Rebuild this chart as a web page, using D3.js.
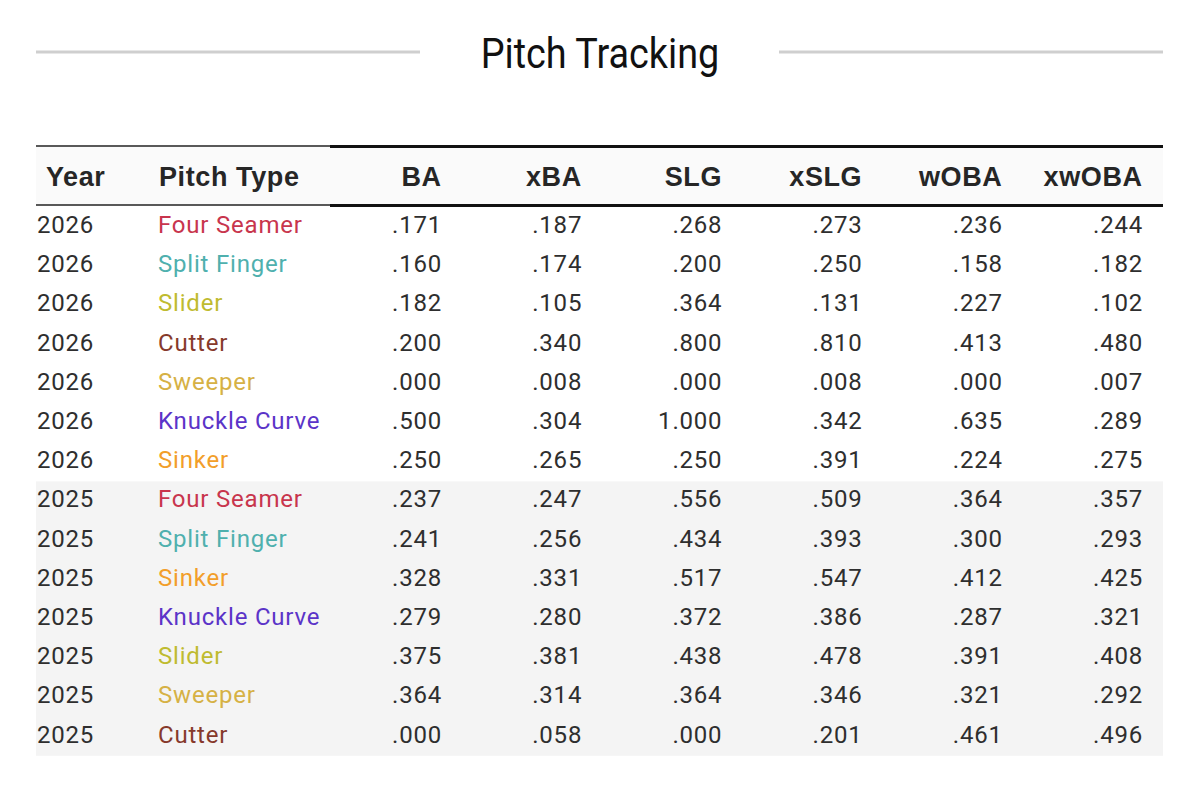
<!DOCTYPE html>
<html>
<head>
<meta charset="utf-8">
<script src="https://cdn.jsdelivr.net/npm/d3@7"></script>
<style>
  body { margin: 0; background: #fff; }
</style>
</head>
<body>
<div id="main"></div>
<script>
const ctx = {
    w: 1200,
    h: 807
}

// table data
const columns = ["BA", "xBA", "SLG", "xSLG", "wOBA", "xwOBA"];
const years = [2026, 2026, 2026, 2026, 2026, 2026, 2026,
               2025, 2025, 2025, 2025, 2025, 2025, 2025];
const pitchTypes = ["Four Seamer", "Split Finger", "Slider", "Cutter", "Sweeper", "Knuckle Curve", "Sinker",
                    "Four Seamer", "Split Finger", "Sinker", "Knuckle Curve", "Slider", "Sweeper", "Cutter"];
const ba    = [.171, .160, .182, .200, .000, .500, .250, .237, .241, .328, .279, .375, .364, .000];
const xba   = [.187, .174, .105, .340, .008, .304, .265, .247, .256, .331, .280, .381, .314, .058];
const slg   = [.268, .200, .364, .800, .000, 1.000, .250, .556, .434, .517, .372, .438, .364, .000];
const xslg  = [.273, .250, .131, .810, .008, .342, .391, .509, .393, .547, .386, .478, .346, .201];
const woba  = [.236, .158, .227, .413, .000, .635, .224, .364, .300, .412, .287, .391, .321, .461];
const xwoba = [.244, .182, .102, .480, .007, .289, .275, .357, .293, .425, .321, .408, .292, .496];

const pitchColors = {
    "Four Seamer": "#c8354d",
    "Split Finger": "#4fb0ae",
    "Slider": "#bfbb30",
    "Cutter": "#86392b",
    "Sweeper": "#d6b145",
    "Knuckle Curve": "#5b34c8",
    "Sinker": "#f29e2a"
};

let fmt = function(v){
    let s = d3.format(".3f")(v);
    return s.startsWith("0") ? s.slice(1) : s;
};

let createViz = function(){
    let svgEl = d3.select("#main").append("svg")
        .attr("width", ctx.w)
        .attr("height", ctx.h);

    let values = [ba, xba, slg, xslg, woba, xwoba];
    let rows = years.map((y, i) => ({
        year: y,
        pitch: pitchTypes[i],
        vals: values.map(arr => arr[i])
    }));

    let left = 36, right = 1163, split = 330;
    let headTop = 147, headBot = 205;

    // title with side rules
    svgEl.append("line").attr("x1", left).attr("x2", 420).attr("y1", 52).attr("y2", 52)
        .attr("stroke", "#cfcfcf").attr("stroke-width", 3);
    svgEl.append("line").attr("x1", 779).attr("x2", right).attr("y1", 52).attr("y2", 52)
        .attr("stroke", "#cfcfcf").attr("stroke-width", 3);
    svgEl.append("text")
        .attr("transform", "translate(600,68) scale(0.9,1)")
        .attr("text-anchor", "middle")
        .style("font-family", "Roboto")
        .style("font-size", "42px")
        .attr("fill", "#111")
        .text("Pitch Tracking");

    let yScale = d3.scaleBand()
        .domain(d3.range(rows.length))
        .range([headBot + 2, headBot + 2 + rows.length * 39.2]);
    let xScale = d3.scaleLinear().domain([0, columns.length - 1]).range([441, 1142]);

    // header background and rules
    svgEl.append("rect").attr("x", left).attr("y", headTop).attr("width", right - left)
        .attr("height", headBot - headTop).attr("fill", "#fafafa");
    [headTop - 1, headBot].forEach(y => {
        svgEl.append("line").attr("x1", left).attr("x2", split).attr("y1", y).attr("y2", y)
            .attr("stroke", "#222").attr("stroke-width", 1.6);
        svgEl.append("line").attr("x1", split).attr("x2", right).attr("y1", y + 0.6).attr("y2", y + 0.6)
            .attr("stroke", "#111").attr("stroke-width", 3);
    });

    let head = svgEl.append("g")
        .style("font-family", "'Liberation Sans', Arial, sans-serif")
        .style("font-weight", "bold")
        .style("font-size", "27px")
        .style("letter-spacing", "0.6px")
        .attr("fill", "#262626");
    head.append("text").attr("x", 46).attr("y", 186).text("Year");
    head.append("text").attr("x", 159).attr("y", 186).text("Pitch Type");
    head.selectAll("text.col").data(columns).enter().append("text")
        .attr("class", "col")
        .attr("x", (d, i) => xScale(i) + 0.6)
        .attr("y", 186)
        .attr("text-anchor", "end")
        .text(d => d);

    // shaded band for the second year
    let firstOld = years.indexOf(2025);
    svgEl.append("rect")
        .attr("x", left)
        .attr("y", yScale(firstOld))
        .attr("width", right - left)
        .attr("height", yScale.bandwidth() * (rows.length - firstOld))
        .attr("fill", "#f4f4f4");

    let body = svgEl.append("g")
        .style("font-family", "Roboto")
        .style("font-size", "24px")
        .style("letter-spacing", "0.8px");

    let rowG = body.selectAll("g.row").data(rows).enter().append("g")
        .attr("class", "row")
        .attr("transform", (d, i) => `translate(0,${yScale(i) + 26})`);

    rowG.append("text").attr("x", 37).attr("fill", "#2e2e2e").text(d => d.year);
    rowG.append("text").attr("x", 158).attr("fill", d => pitchColors[d.pitch]).text(d => d.pitch);
    rowG.selectAll("text.val").data(d => d.vals).enter().append("text")
        .attr("class", "val")
        .attr("x", (d, i) => xScale(i) + 1)
        .attr("text-anchor", "end")
        .attr("fill", "#2e2e2e")
        .text(d => fmt(d));
};

createViz();
</script>
</body>
</html>
